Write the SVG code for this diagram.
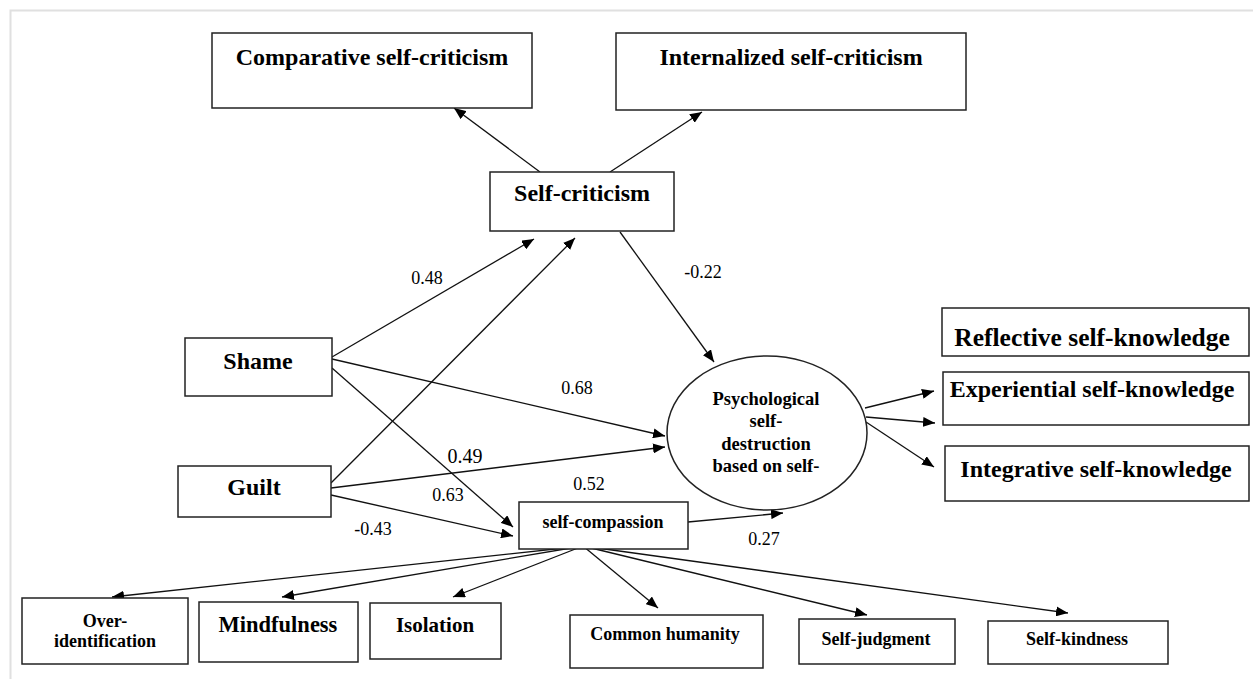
<svg xmlns="http://www.w3.org/2000/svg" width="1253" height="679" viewBox="0 0 1253 679">
<defs>
<marker id="ah" viewBox="0 0 12 10" refX="12" refY="5" markerWidth="12" markerHeight="10" orient="auto" markerUnits="userSpaceOnUse"><path d="M0,0 L12,5 L0,10 z" fill="#000"/></marker>
<style>
.box{fill:#fff;stroke:#222;stroke-width:1.5}
.t{font-family:'Liberation Serif','DejaVu Serif',serif;font-weight:bold;fill:#000;text-anchor:middle}
.lbl{font-family:'Liberation Serif','DejaVu Serif',serif;font-size:18px;fill:#000;text-anchor:middle}
.c{stroke:#111;stroke-width:1.3;fill:none;marker-end:url(#ah)}
</style>
</defs>
<rect width="1253" height="679" fill="#fff"/>
<path d="M1253,10.5 H10.5 V679" fill="none" stroke="#e0e0e0" stroke-width="2"/>

<g id="connectors">
<line class="c" x1="540" y1="172" x2="454" y2="108"/>
<line class="c" x1="610" y1="172" x2="702" y2="112"/>
<line class="c" x1="332" y1="357" x2="534" y2="239"/>
<line class="c" x1="331" y1="483" x2="575" y2="238"/>
<line class="c" x1="620" y1="232" x2="714" y2="362"/>
<line class="c" x1="332" y1="359" x2="665" y2="436"/>
<line class="c" x1="331" y1="488" x2="665" y2="447"/>
<line class="c" x1="332" y1="368" x2="513" y2="527"/>
<line class="c" x1="331" y1="495" x2="513" y2="536"/>
<line class="c" x1="688" y1="522" x2="783" y2="513"/>
<line class="c" x1="865" y1="408" x2="934" y2="391"/>
<line class="c" x1="866" y1="417" x2="935" y2="423"/>
<line class="c" x1="866" y1="422" x2="934" y2="467"/>
<line class="c" x1="583" y1="546" x2="112" y2="597"/>
<line class="c" x1="583" y1="546" x2="282" y2="597"/>
<line class="c" x1="583" y1="546" x2="453" y2="597"/>
<line class="c" x1="583" y1="546" x2="658" y2="608"/>
<line class="c" x1="583" y1="546" x2="867" y2="615"/>
<line class="c" x1="583" y1="546" x2="1068" y2="613"/>
<text class="lbl" x="427" y="284">0.48</text>
<text class="lbl" x="703" y="278">-0.22</text>
<text class="lbl" x="577" y="394">0.68</text>
<text class="lbl" x="465" y="463" style="font-size:20px">0.49</text>
<text class="lbl" x="448" y="501">0.63</text>
<text class="lbl" x="589" y="490">0.52</text>
<text class="lbl" x="373" y="535">-0.43</text>
<text class="lbl" x="764" y="545">0.27</text>
</g>

<g id="comparative">
<rect class="box" x="212" y="33" width="320" height="75"/>
<text class="t" x="372" y="65" font-size="24">Comparative self-criticism</text>
</g>
<g id="internalized">
<rect class="box" x="616" y="33" width="350" height="77"/>
<text class="t" x="791" y="65" font-size="24">Internalized self-criticism</text>
</g>
<g id="self-criticism">
<rect class="box" x="490" y="172" width="184" height="59"/>
<text class="t" x="582" y="201" font-size="24">Self-criticism</text>
</g>
<g id="shame">
<rect class="box" x="185" y="338" width="147" height="58"/>
<text class="t" x="258" y="369" font-size="24">Shame</text>
</g>
<g id="guilt">
<rect class="box" x="178" y="466" width="153" height="51"/>
<text class="t" x="254" y="495" font-size="24">Guilt</text>
</g>
<g id="psych">
<ellipse cx="767" cy="433" rx="100" ry="77" fill="#fff" stroke="#222" stroke-width="1.5"/>
<text class="t" font-size="18.5"><tspan x="766" y="405">Psychological</tspan><tspan x="766" y="427">self-</tspan><tspan x="766" y="450">destruction</tspan><tspan x="766" y="472">based on self-</tspan></text>
</g>
<g id="reflective">
<rect class="box" x="942" y="308" width="307" height="48"/>
<text class="t" x="1092" y="346" font-size="25.5">Reflective self-knowledge</text>
</g>
<g id="experiential">
<rect class="box" x="943" y="372" width="306" height="53"/>
<text class="t" x="1092" y="397" font-size="24">Experiential self-knowledge</text>
</g>
<g id="integrative">
<rect class="box" x="945" y="446" width="304" height="55"/>
<text class="t" x="1096" y="477" font-size="24">Integrative self-knowledge</text>
</g>
<g id="self-compassion">
<rect class="box" x="519" y="502" width="169" height="47"/>
<text class="t" x="603" y="528" font-size="18">self-compassion</text>
</g>
<g id="over-identification">
<rect class="box" x="22" y="598" width="166" height="66"/>
<text class="t" font-size="18"><tspan x="105" y="627">Over-</tspan><tspan x="105" y="647">identification</tspan></text>
</g>
<g id="mindfulness">
<rect class="box" x="199" y="602" width="159" height="60"/>
<text class="t" x="278" y="632" font-size="22.5">Mindfulness</text>
</g>
<g id="isolation">
<rect class="box" x="370" y="603" width="131" height="56"/>
<text class="t" x="435" y="632" font-size="21">Isolation</text>
</g>
<g id="common-humanity">
<rect class="box" x="570" y="615" width="193" height="53"/>
<text class="t" x="665" y="640" font-size="18">Common humanity</text>
</g>
<g id="self-judgment">
<rect class="box" x="799" y="619" width="156" height="45"/>
<text class="t" x="876" y="645" font-size="18">Self-judgment</text>
</g>
<g id="self-kindness">
<rect class="box" x="988" y="621" width="180" height="43"/>
<text class="t" x="1077" y="645" font-size="18">Self-kindness</text>
</g>
</svg>
